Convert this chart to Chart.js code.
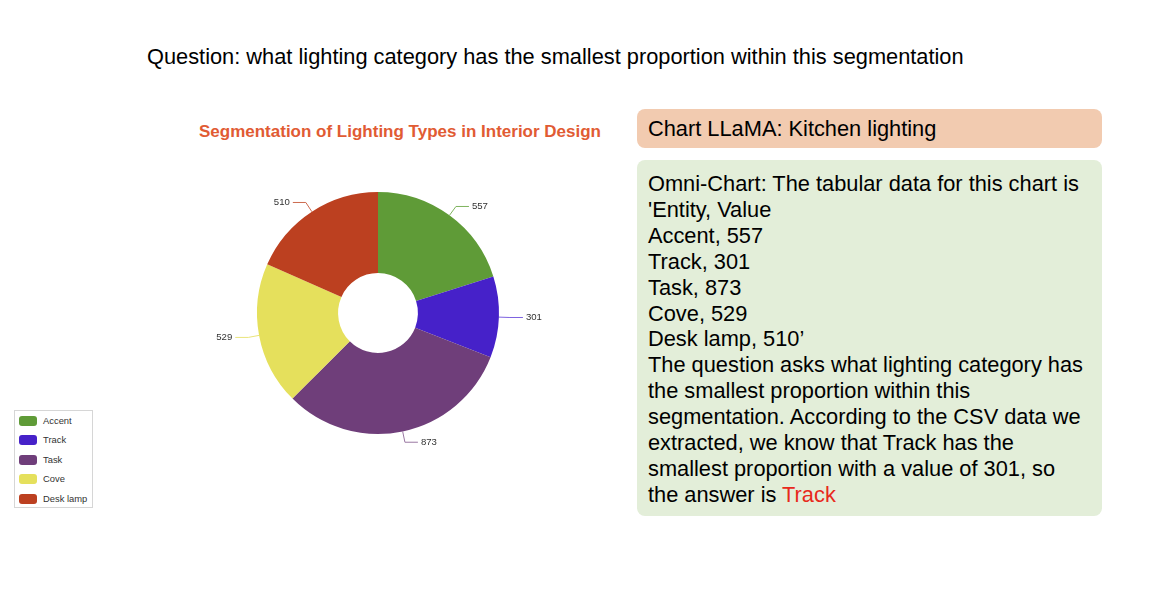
<!DOCTYPE html>
<html>
<head>
<meta charset="utf-8">
<script src="https://cdn.jsdelivr.net/npm/chart.js@4.4.0/dist/chart.umd.min.js"></script>
<style>
  html, body { margin:0; padding:0; background:#fff; }
  body { width:1162px; height:596px; position:relative; overflow:hidden; font-family:"Liberation Sans", Arial, Helvetica, sans-serif; }
  #question { position:absolute; left:147px; top:44px; font-size:21.8px; line-height:26px; color:#000; white-space:nowrap; }
  #title { position:absolute; left:100px; top:122px; width:600px; text-align:center; font-size:17px; line-height:20px; font-weight:bold; color:#e15b33; white-space:nowrap; }
  #chartWrap { position:absolute; left:178px; top:173px; width:400px; height:280px; }
  #legend { position:absolute; left:14px; top:410px; width:79px; height:98px; border:1px solid #d6d6d6; box-sizing:border-box; }
  .li { position:absolute; left:4px; height:12px; font-size:9.4px; color:#333; white-space:nowrap; }
  .sw { position:absolute; left:0; top:1px; width:18px; height:10px; border-radius:3px; }
  .lt { position:absolute; left:24px; top:0px; line-height:12px; }
  .box { position:absolute; left:637px; width:465px; border-radius:8px; box-sizing:border-box; color:#000; }
  #llama { top:109px; height:39px; background:#f2cbb0; font-size:21.8px; line-height:26px; padding:7px 0 0 11px; }
  #omni { top:160px; height:356px; background:#e3eed9; font-size:21.8px; line-height:25.9px; padding:11px 0 0 11px; }
  .red { color:#e8291c; }
</style>
</head>
<body>
<div id="question">Question: what lighting category has the smallest proportion within this segmentation</div>
<div id="title">Segmentation of Lighting Types in Interior Design</div>
<div id="chartWrap"><canvas id="c"></canvas></div>
<div id="legend"></div>
<div class="box" id="llama">Chart LLaMA: Kitchen lighting</div>
<div class="box" id="omni">Omni-Chart: The tabular data for this chart is<br>'Entity, Value<br>Accent, 557<br>Track, 301<br>Task, 873<br>Cove, 529<br>Desk lamp, 510’<br>The question asks what lighting category has<br>the smallest proportion within this<br>segmentation. According to the CSV data we<br>extracted, we know that Track has the<br>smallest proportion with a value of 301, so<br>the answer is <span class="red">Track</span></div>
<script>
const categories = ["Accent", "Track", "Task", "Cove", "Desk lamp"];
const values = [557, 301, 873, 529, 510];
const colors = ["#5f9b37", "#4621c9", "#6f3e7a", "#e5e05c", "#bc4020"];
const lineColors = ["#7fb35e", "#7d62e0", "#9a78a3", "#e9e47a", "#cc6a4f"];

// HTML legend built from data
const legend = document.getElementById('legend');
categories.forEach((c, i) => {
  const d = document.createElement('div');
  d.className = 'li';
  d.style.top = (4 + i * 19.4) + 'px';
  d.innerHTML = '<div class="sw" style="background:' + colors[i] + '"></div><div class="lt">' + c + '</div>';
  legend.appendChild(d);
});

const leaderLabels = {
  id: 'leaderLabels',
  afterDatasetsDraw(chart) {
    const ctx = chart.ctx;
    const meta = chart.getDatasetMeta(0);
    ctx.save();
    ctx.font = '9.6px "Liberation Sans", Arial, sans-serif';
    ctx.textBaseline = 'middle';
    meta.data.forEach((arc, i) => {
      const p = arc.getProps(['x', 'y', 'startAngle', 'endAngle', 'outerRadius'], true);
      const mid = (p.startAngle + p.endAngle) / 2;
      const cos = Math.cos(mid), sin = Math.sin(mid);
      const x0 = p.x + p.outerRadius * cos, y0 = p.y + p.outerRadius * sin;
      const x1 = p.x + (p.outerRadius + 11) * cos, y1 = p.y + (p.outerRadius + 11) * sin;
      const dir = cos >= 0 ? 1 : -1;
      const x2 = x1 + dir * 13;
      ctx.strokeStyle = lineColors[i];
      ctx.lineWidth = 1;
      ctx.beginPath();
      ctx.moveTo(x0, y0); ctx.lineTo(x1, y1); ctx.lineTo(x2, y1);
      ctx.stroke();
      ctx.fillStyle = '#333';
      ctx.textAlign = dir > 0 ? 'left' : 'right';
      ctx.fillText(String(values[i]), x2 + dir * 3, y1);
    });
    ctx.restore();
  }
};

new Chart(document.getElementById('c'), {
  type: 'doughnut',
  data: {
    labels: categories,
    datasets: [{
      data: values,
      backgroundColor: colors,
      borderWidth: 0,
      hoverOffset: 0
    }]
  },
  options: {
    responsive: true,
    maintainAspectRatio: false,
    animation: false,
    cutout: '33%',
    layout: { padding: 19 },
    plugins: {
      legend: { display: false },
      tooltip: { enabled: false },
      title: { display: false }
    }
  },
  plugins: [leaderLabels]
});
</script>
</body>
</html>
